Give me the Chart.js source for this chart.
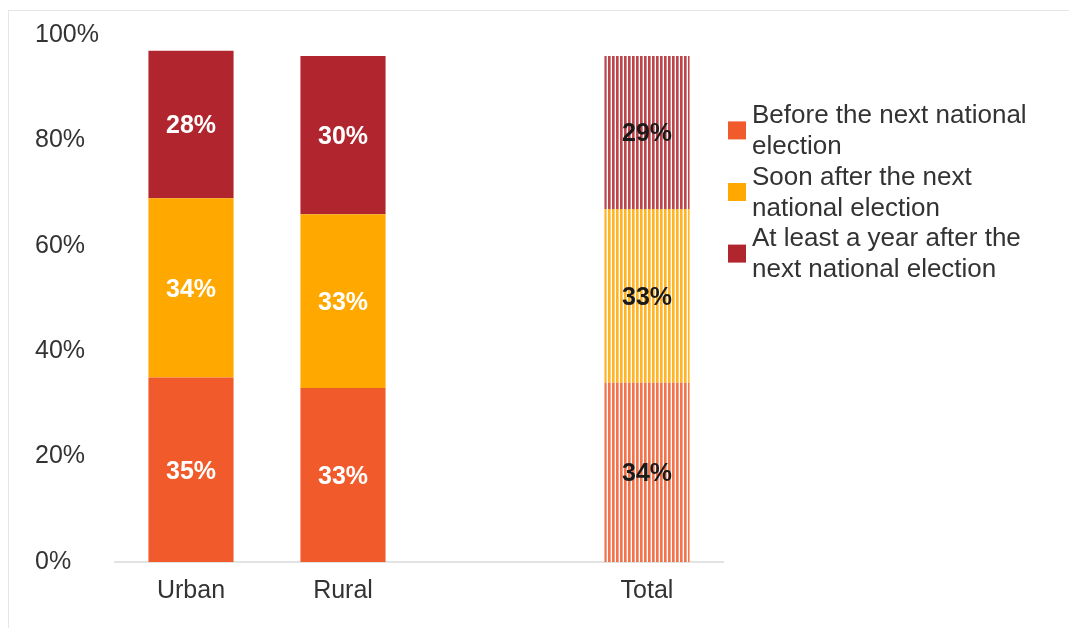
<!DOCTYPE html>
<html><head><meta charset="utf-8">
<script src="https://cdn.jsdelivr.net/npm/chart.js@4"></script>
<style>
html,body{margin:0;padding:0;background:#fff;overflow:hidden}
#frame{position:absolute;left:8px;top:10px;width:1200px;height:800px;border-left:1px solid #e6e6e6;border-top:1px solid #e6e6e6}
#wrap{position:absolute;left:0;top:0;width:1069px;height:628px}
</style></head><body>
<div id="frame"></div>
<div id="wrap"><canvas id="c" width="1069" height="628"></canvas></div>
<script>
const categories = ['Urban', 'Rural', '', 'Total'];
const seriesNames = [
  'Before the next national election',
  'Soon after the next national election',
  'At least a year after the next national election'
];
const beforeElection = [35, 33, null, 34];
const soonAfter = [34, 33, null, 33];
const yearAfter = [28, 30, null, 29];
const yTicks = [0, 20, 40, 60, 80, 100];
const seriesColors = ['#F15A2B', '#FFA800', '#B1262E'];
const patternIndex = 3; // the "Total" column is drawn hatched

const FONT = '"Liberation Sans", Arial, Helvetica, sans-serif';

function hexToRgb(h){const n=parseInt(h.slice(1),16);return [(n>>16)&255,(n>>8)&255,n&255];}
function stripePattern(hex){
  const c=document.createElement('canvas');c.width=4;c.height=4;
  const g=c.getContext('2d');const [r,gg,b]=hexToRgb(hex);
  g.fillStyle='rgba('+r+','+gg+','+b+',0.85)';g.fillRect(0,0,2,4);
  g.fillStyle='rgba('+r+','+gg+','+b+',0.55)';g.fillRect(2,0,1,4);
  g.fillStyle='#ffffff';g.fillRect(3,0,1,4);
  return document.getElementById('c').getContext('2d').createPattern(c,'repeat');
}
function fills(hex){return categories.map((_,i)=> i===patternIndex ? stripePattern(hex) : hex);}

function wrapText(ctx, text, maxW){
  const words=text.split(' ');const lines=[];let cur='';
  words.forEach(w=>{const t=cur?cur+' '+w:w; if(ctx.measureText(t).width>maxW && cur){lines.push(cur);cur=w;} else cur=t;});
  if(cur) lines.push(cur); return lines;
}

const valueLabels = {
  id:'valueLabels',
  afterDatasetsDraw(chart){
    const ctx=chart.ctx;ctx.save();
    ctx.font='bold 25px '+FONT;ctx.textAlign='center';ctx.textBaseline='middle';
    chart.data.datasets.forEach((ds,di)=>{
      const meta=chart.getDatasetMeta(di);
      meta.data.forEach((bar,i)=>{
        const v=ds.data[i]; if(v==null) return;
        const p=bar.getProps(['x','y','base'],true);
        ctx.fillStyle = i===patternIndex ? '#1a1a1a' : '#ffffff';
        ctx.fillText(v+'%', p.x, (p.y+p.base)/2+2);
      });
    });
    ctx.restore();
  }
};

const sideLegend = {
  id:'sideLegend',
  afterDraw(chart){
    const ctx=chart.ctx;ctx.save();
    ctx.font='26px '+FONT;ctx.textBaseline='middle';ctx.textAlign='left';
    const boxX=728, textX=752, lh=30.8, box=18;
    let y=116;
    chart.data.datasets.forEach((ds,i)=>{
      const lines=wrapText(ctx, ds.label, 300);
      const mid=y+(lines.length-1)*lh/2;
      ctx.fillStyle=seriesColors[i];ctx.fillRect(boxX, mid-box/2-1, box, box);
      ctx.fillStyle='#333333';
      lines.forEach((l,k)=>ctx.fillText(l, textX, y+k*lh));
      y+=lines.length*lh;
    });
    ctx.restore();
  }
};

const datasetValues=[beforeElection, soonAfter, yearAfter];
new Chart(document.getElementById('c'),{
  type:'bar',
  data:{
    labels:categories,
    datasets:datasetValues.map((d,i)=>({
      label:seriesNames[i], data:d, backgroundColor:fills(seriesColors[i]),
      borderWidth:0, barPercentage:0.56, categoryPercentage:1
    }))
  },
  options:{
    responsive:false, animation:false, devicePixelRatio:1,
    layout:{padding:{left:35, right:346, top:35, bottom:26}},
    plugins:{legend:{display:false}, tooltip:{enabled:false}},
    scales:{
      x:{
        stacked:true,
        grid:{display:false, drawTicks:false},
        border:{display:true, color:'#e3e3e3', width:2},
        ticks:{color:'#333333', font:{family:FONT, size:25}, padding:14, maxRotation:0},
        afterFit(s){s.height=40;}
      },
      y:{
        stacked:true, min:0, max:100,
        grid:{display:false, drawTicks:false},
        border:{display:false},
        afterBuildTicks(s){s.ticks=yTicks.map(v=>({value:v}));},
        ticks:{color:'#333333', font:{family:FONT, size:25}, crossAlign:'far', padding:0, callback:v=>v+'%'},
        afterFit(s){s.width=80;}
      }
    }
  },
  plugins:[valueLabels, sideLegend]
});
</script>
</body></html>
